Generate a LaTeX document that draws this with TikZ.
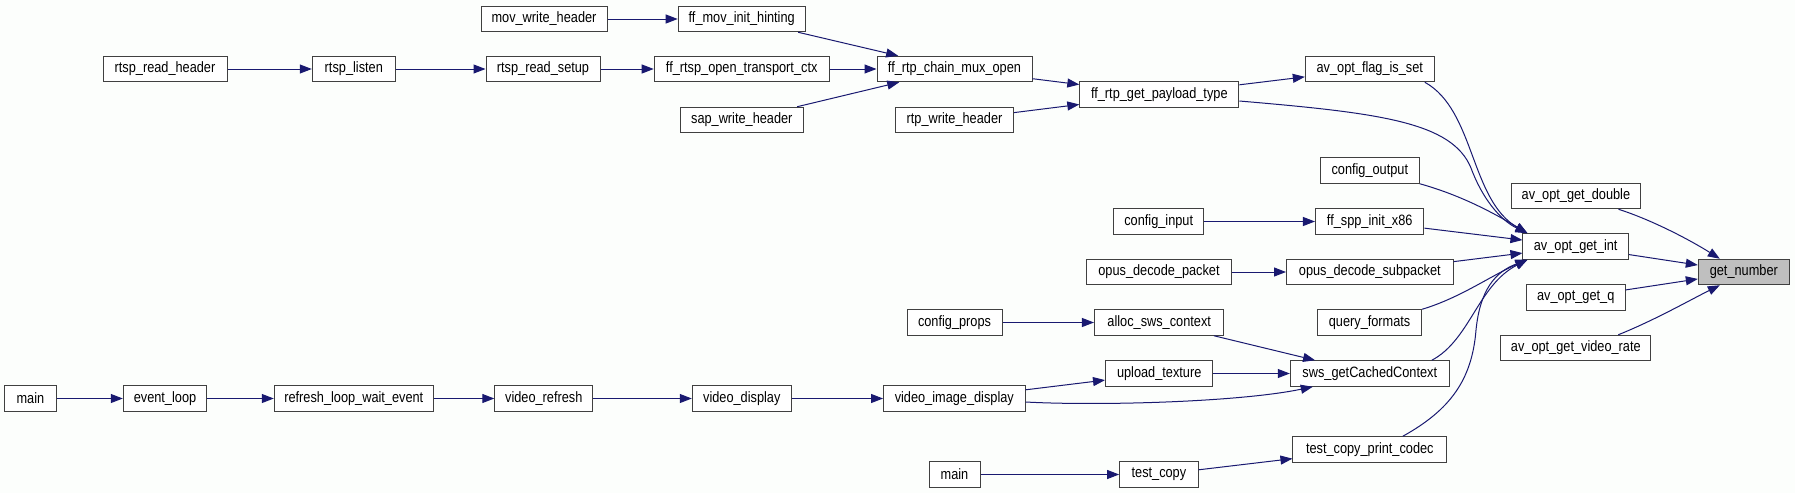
\documentclass[tikz,border=0pt]{standalone}
\usepackage{fontspec}
\newfontfamily\callfont{Liberation Sans}[FakeStretch=0.85]
\usepackage{xcolor}
\usetikzlibrary{arrows.meta, calc}
\definecolor{edgeblue}{HTML}{191970}
\definecolor{boxgray}{HTML}{404040}
\definecolor{hitgray}{HTML}{BFBFBF}
\definecolor{paper}{HTML}{FCFEFC}

\begin{document}
\begin{tikzpicture}[
    x=1pt, y=-1pt,
    >={Triangle[length=12pt, width=9pt]},
    fn/.style={draw=boxgray, line width=1pt, fill=white, inner sep=2pt,
      minimum height=25.5pt, minimum width=#1, font={\callfont\fontsize{15}{18}\selectfont}},
    call/.style={->, line width=1pt, color=edgeblue},
]

\useasboundingbox (0,0) rectangle (1795,493);
\fill[paper] (0,0) rectangle (1795,493);

% Top block: rtsp / rtp callers
\node[fn=126] (movwh) at (544,19) {mov\_write\_header};
\node[fn=127] (movhint) at (741.7,19) {ff\_mov\_init\_hinting};
\node[fn=124] (rtsphdr) at (165,69) {rtsp\_read\_header};
\node[fn=83] (rtsplisten) at (353.8,69) {rtsp\_listen};
\node[fn=114] (rtspsetup) at (543,69) {rtsp\_read\_setup};
\node[fn=175] (rtsptrans) at (741.7,69) {ff\_rtsp\_open\_transport\_ctx};
\node[fn=155] (chainmux) at (954.5,69) {ff\_rtp\_chain\_mux\_open};
\node[fn=123] (sapwh) at (741.8,120) {sap\_write\_header};
\node[fn=118] (rtpwh) at (954.5,120) {rtp\_write\_header};
\node[fn=159] (payload) at (1159.3,94.5) {ff\_rtp\_get\_payload\_type};
\node[fn=129] (flagset) at (1369.8,69) {av\_opt\_flag\_is\_set};

% Middle block: filters and codecs
\node[fn=99] (cfgout) at (1369.8,170.5) {config\_output};
\node[fn=90] (cfgin) at (1158.7,221.5) {config\_input};
\node[fn=108.5] (spp) at (1369.7,221.5) {ff\_spp\_init\_x86};
\node[fn=145] (opuspkt) at (1159,272) {opus\_decode\_packet};
\node[fn=166.6] (opussub) at (1369.8,272) {opus\_decode\_subpacket};
\node[fn=95] (cfgprops) at (954.5,322.5) {config\_props};
\node[fn=129.5] (allocsws) at (1159.2,322.5) {alloc\_sws\_context};
\node[fn=104] (queryfmt) at (1369.6,322.5) {query\_formats};
\node[fn=107.4] (upload) at (1159.2,373.5) {upload\_texture};
\node[fn=159] (sws) at (1369.8,373.5) {sws\_getCachedContext};

% Bottom block: player and tests
\node[fn=51.7] (mainA) at (30.4,398.5) {main};
\node[fn=83.4] (evloop) at (165,398.5) {event\_loop};
\node[fn=159] (refresh) at (353.8,398.5) {refresh\_loop\_wait\_event};
\node[fn=98] (vrefresh) at (543.8,398.5) {video\_refresh};
\node[fn=99] (vdisplay) at (741.8,398.5) {video\_display};
\node[fn=141.5] (vimage) at (954.3,398.5) {video\_image\_display};
\node[fn=153.7] (printcodec) at (1369.8,449.5) {test\_copy\_print\_codec};
\node[fn=51] (mainB) at (954.5,474.5) {main};
\node[fn=78.5] (testcopy) at (1158.9,474.5) {test\_copy};

% av_opt getters and the target
\node[fn=129.4] (getdouble) at (1575.9,196) {av\_opt\_get\_double};
\node[fn=105.5] (getint) at (1575.7,246.5) {av\_opt\_get\_int};
\node[fn=98.7] (getq) at (1575.7,297.5) {av\_opt\_get\_q};
\node[fn=150] (getrate) at (1575.8,348) {av\_opt\_get\_video\_rate};
\node[fn=91, fill=hitgray] (getnum) at (1743.8,272) {get\_number};

% Straight calls
\foreach \a/\b in {movwh/movhint, rtsphdr/rtsplisten, rtsplisten/rtspsetup,
    rtspsetup/rtsptrans, rtsptrans/chainmux, movhint/chainmux, sapwh/chainmux,
    chainmux/payload, rtpwh/payload, payload/flagset, cfgin/spp, spp/getint,
    opuspkt/opussub, opussub/getint, cfgprops/allocsws, allocsws/sws, upload/sws,
    vimage/upload, mainA/evloop, evloop/refresh, refresh/vrefresh,
    vrefresh/vdisplay, vdisplay/vimage, mainB/testcopy, testcopy/printcodec,
    getint/getnum, getq/getnum} {
    \draw[call] (\a) -- (\b);
}

% Curved calls into av_opt_get_int
\coordinate (inhi) at ([xshift=5pt]getint.north west);
\coordinate (inlo) at ([xshift=5pt]getint.south west);
\draw[call] ([xshift=-10pt]flagset.south east) .. controls (1475,110) and (1470,200) .. (inhi);
\draw[call] ([yshift=-6.5pt]payload.east) .. controls (1380,113) and (1452,122) .. (1471,168)
    .. controls (1482,198) and (1500,220) .. (inhi);
\draw[call] (cfgout.south east) .. controls (1460,195) and (1492,212) .. (inhi);
\draw[call] (queryfmt.north east) .. controls (1460,298) and (1492,275) .. (inlo);
\draw[call] ([xshift=-18pt]sws.north east) .. controls (1470,340) and (1478,285) .. (inlo);
\draw[call] ([xshift=33pt]printcodec.north) .. controls (1450,410) and (1472,380) .. (1476,330)
    .. controls (1480,290) and (1495,272) .. (inlo);

% Other curved calls
\draw[call] ([yshift=-3.5pt]vimage.east) .. controls (1100,406) and (1240,402) .. ([xshift=-57pt]sws.south);
\draw[call] ([xshift=-22.6pt]getdouble.south east) .. controls (1652,220) and (1690,240) .. ([xshift=-24pt]getnum.north);
\draw[call] ([xshift=-33pt]getrate.north east) .. controls (1655,320) and (1690,300) .. ([xshift=-24pt]getnum.south);

\end{tikzpicture}
\end{document}
